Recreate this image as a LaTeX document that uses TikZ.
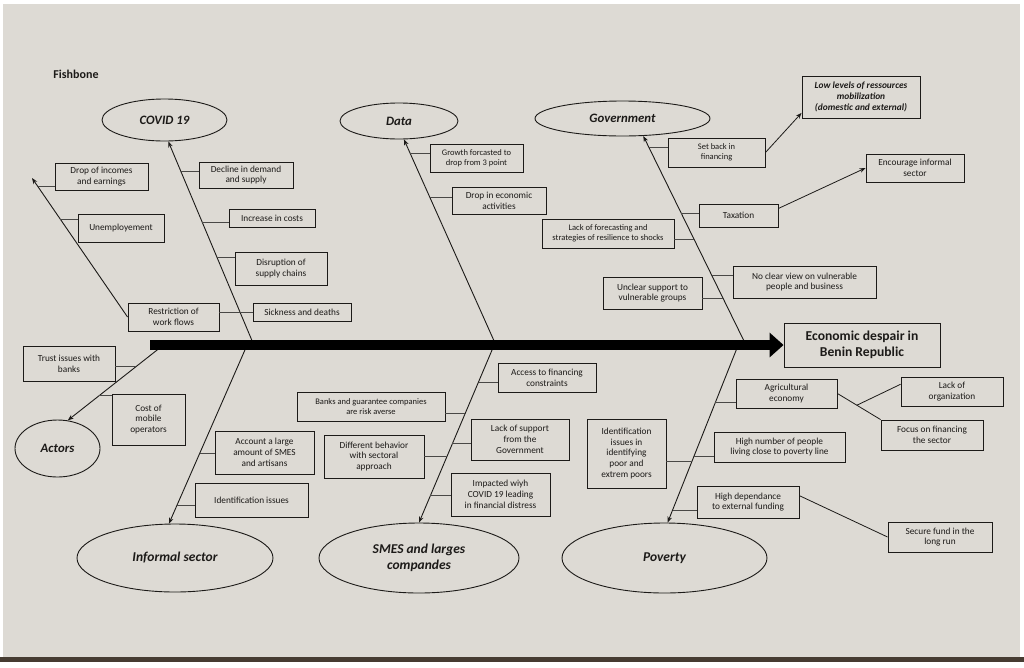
\documentclass[tikz,border=0pt]{standalone}
\usepackage{fontspec}
\setmainfont{Carlito}
\usetikzlibrary{shapes.geometric,arrows.meta,calc}
\definecolor{paper}{RGB}{221,218,212}
\definecolor{ink}{RGB}{28,26,24}
\definecolor{edge}{RGB}{70,60,50}
\begin{document}
\begin{tikzpicture}[x=1pt,y=-1pt,
  box/.style={draw=ink, line width=0.9pt, align=center, inner sep=1pt, text=ink,
    font=\fontsize{9.3}{10.8}\selectfont},
  smallbox/.style={box, font=\fontsize{8.5}{10}\selectfont},
  bx/.style 2 args={minimum width=#1pt, minimum height=#2pt},
  ell/.style={ellipse, draw=ink, line width=0.9pt, inner sep=0pt, text=ink,
    font=\fontsize{12.8}{14.5}\selectfont\bfseries\itshape},
  bigell/.style={ell, font=\fontsize{13.5}{16}\selectfont\bfseries\itshape},
  bone/.style={draw=ink, line width=0.9pt, -{Stealth[length=6pt,width=4.5pt]}},
  conn/.style={draw=ink!80, line width=0.7pt},
  link/.style={draw=ink, line width=0.8pt},
  linkarrow/.style={link, -{Stealth[length=6pt,width=4.5pt]}},
  spine/.style={draw=black, line width=10pt, -{Triangle[length=14pt,width=24pt]}}
]
\useasboundingbox (0,0) rectangle (1024,667);
% paper
\fill[white] (0,0) rectangle (1024,667);
\fill[paper] (3,4) rectangle (1020,657);
\fill[edge] (0,657) rectangle (1024,662);

% title
\node[font=\fontsize{12}{13}\selectfont\bfseries, text=ink] (title) at (76,74) {Fishbone};

% category ellipses
\node[ell, minimum width=125pt, minimum height=42pt] (covid) at (164.5,120) {COVID 19};
\node[ell, minimum width=118pt, minimum height=36pt] (data) at (399,121) {Data};
\node[ell, minimum width=175pt, minimum height=35pt] (gov) at (622.5,118.5) {Government};
\node[ell, minimum width=85pt, minimum height=57pt] (actors) at (57.5,448.5) {Actors};
\node[bigell, minimum width=196pt, minimum height=68pt] (informal) at (175,558) {Informal sector};
\node[bigell, minimum width=200pt, minimum height=70pt, align=center] (smes) at (419,558) {SMES and larges\\compandes};
\node[bigell, minimum width=205pt, minimum height=70pt] (poverty) at (664.5,558) {Poverty};

% effect
\node[box, bx={156}{44}, font=\fontsize{13.6}{15.5}\selectfont\bfseries] (effect) at (862,345) {Economic despair in\\Benin Republic};

% COVID boxes
\node[box, bx={93}{27}] (drop) at (101.5,176.5) {Drop of incomes\\and earnings};
\node[box, bx={86}{28}] (unemp) at (121,228) {Unemployement};
\node[box, bx={91}{28}] (restr) at (173.5,317) {Restriction of\\work flows};
\node[box, bx={94}{26}] (decline) at (246,175) {Decline in demand\\and supply};
\node[box, bx={86}{18}] (increase) at (272,218) {Increase in costs};
\node[box, bx={92}{33}] (disrupt) at (281,268.5) {Disruption of\\supply chains};
\node[box, bx={98}{18}] (sick) at (302,312) {Sickness and deaths};

% Data boxes
\node[smallbox, bx={93}{28}] (growth) at (476.5,158) {Growth forcasted to\\drop from 3 point};
\node[box, bx={94}{27}] (dropeco) at (499,200.5) {Drop in economic\\activities};

% Government boxes
\node[smallbox, bx={97}{29}] (setback) at (716.5,152.5) {Set back in\\financing};
\node[smallbox, bx={118}{42}, font=\fontsize{9.4}{10.8}\selectfont\bfseries\itshape] (lowlev) at (861,97) {Low levels of ressources\\mobilization\\(domestic and external)};
\node[box, bx={98}{28}] (encour) at (915,168) {Encourage informal\\sector};
\node[box, bx={79}{23}] (tax) at (738.5,215.5) {Taxation};
\node[smallbox, bx={132}{29}] (lackfc) at (608,233.5) {Lack of forecasting and\\strategies of resilience to shocks};
\node[box, bx={143}{32}] (noclear) at (804.5,282) {No clear view on vulnerable\\people and business};
\node[box, bx={99}{32}] (unclear) at (652.5,293) {Unclear support to\\vulnerable groups};

% Actors boxes
\node[box, bx={92}{35}] (trust) at (69,363.5) {Trust issues with\\banks};
\node[box, bx={73}{51}] (cost) at (148.5,419.5) {Cost of\\mobile\\operators};

% Informal sector boxes
\node[box, bx={99}{43}] (account) at (264.5,452.5) {Account a large\\amount of SMES\\and artisans};
\node[box, bx={113}{34}] (ident) at (251.5,500) {Identification issues};

% SMES boxes
\node[box, bx={98}{29}] (access) at (547,377.5) {Access to financing\\constraints};
\node[smallbox, bx={148}{29}] (banks) at (371,406.5) {Banks and guarantee companies\\are risk averse};
\node[box, bx={98}{41}] (lacksup) at (520,439.5) {Lack of support\\from the\\Government};
\node[box, bx={100}{43}] (diff) at (374,456.5) {Different behavior\\with sectoral\\approach};
\node[box, bx={99}{43}] (impact) at (500.5,494.5) {Impacted wiyh\\COVID 19 leading\\in financial distress};

% Poverty boxes
\node[box, bx={101}{29}] (agri) at (786.5,393.5) {Agricultural\\economy};
\node[box, bx={102}{29}] (lackorg) at (952,391.5) {Lack of\\organization};
\node[box, bx={102}{30}] (focus) at (932,435) {Focus on financing\\the sector};
\node[box, bx={79}{69}] (identpov) at (626.5,453.5) {Identification\\issues in\\identifying\\poor and\\extrem poors};
\node[box, bx={131}{30}] (highnum) at (779.5,447) {High number of people\\living close to poverty line};
\node[box, bx={102}{32}] (highdep) at (748,502) {High dependance\\to external funding};
\node[box, bx={104}{30}] (secure) at (940,537) {Secure fund in the\\long run};

% spine base points
\coordinate (bc) at (253,343);
\coordinate (bd) at (495,343);
\coordinate (bg) at (745,343);
\coordinate (ba) at (166,343);
\coordinate (bi) at (248,343);
\coordinate (bs) at (495,343);
\coordinate (bp) at (739,343);
\coordinate (subtip) at (32,178);
\coordinate (spinestart) at (150,345);

% bones
\draw[bone] (bc) -- (covid.-80);
\draw[bone] (bd) -- (data.-75);
\draw[bone] (bg) -- (gov.-40);
\draw[bone] (ba) -- (actors.70);
\draw[bone] (bi) -- (informal.100);
\draw[bone] (bs) -- (smes.north);
\draw[bone] (bp) -- (poverty.85);
\draw[bone] (restr.west) -- (subtip);

% COVID connectors
\coordinate (c1) at ($(bc)!0.851!(covid.-80)$);
\coordinate (c2) at ($(bc)!0.599!(covid.-80)$);
\coordinate (c3) at ($(bc)!0.426!(covid.-80)$);
\coordinate (c4) at ($(bc)!0.153!(covid.-80)$);
\draw[conn] (c1) -- (c1 -| decline.west);
\draw[conn] (c2) -- (c2 -| increase.west);
\draw[conn] (c3) -- (c3 -| disrupt.west);
\draw[conn] (c4) -- (c4 -| sick.west);
\draw[conn] (c4) -- (c4 -| restr.east);
\coordinate (s1) at ($(restr.west)!0.942!(subtip)$);
\coordinate (s2) at ($(restr.west)!0.705!(subtip)$);
\draw[conn] (s1) -- (s1 -| drop.west);
\draw[conn] (s2) -- (s2 -| unemp.west);

% Data connectors
\coordinate (d1) at ($(bd)!0.931!(data.-75)$);
\coordinate (d2) at ($(bd)!0.716!(data.-75)$);
\draw[conn] (d1) -- (d1 -| growth.west);
\draw[conn] (d2) -- (d2 -| dropeco.west);

% Government connectors
\coordinate (g1) at ($(bg)!0.947!(gov.-40)$);
\coordinate (g2) at ($(bg)!0.627!(gov.-40)$);
\coordinate (g3) at ($(bg)!0.501!(gov.-40)$);
\coordinate (g4) at ($(bg)!0.328!(gov.-40)$);
\coordinate (g5) at ($(bg)!0.217!(gov.-40)$);
\draw[conn] (g1) -- (g1 -| setback.west);
\draw[conn] (g2) -- (g2 -| tax.west);
\draw[conn] (g3) -- (g3 -| lackfc.east);
\draw[conn] (g4) -- (g4 -| noclear.west);
\draw[conn] (g5) -- (g5 -| unclear.east);
\draw[linkarrow] (setback.east) -- (lowlev.195);
\draw[linkarrow] (tax.10) -- (encour.west);

% Actors connectors
\coordinate (a1) at ($(ba)!0.308!(actors.70)$);
\coordinate (a2) at ($(ba)!0.681!(actors.70)$);
\draw[conn] (a1) -- (a1 -| trust.east);
\draw[conn] (a2) -- (a2 -| cost.west);

% Informal connectors
\coordinate (i1) at ($(bi)!0.613!(informal.100)$);
\coordinate (i2) at ($(bi)!0.901!(informal.100)$);
\draw[conn] (i1) -- (i1 -| account.west);
\draw[conn] (i2) -- (i2 -| ident.west);

% SMES connectors
\coordinate (m1) at ($(bs)!0.217!(smes.north)$);
\coordinate (m2) at ($(bs)!0.389!(smes.north)$);
\coordinate (m3) at ($(bs)!0.561!(smes.north)$);
\coordinate (m4) at ($(bs)!0.633!(smes.north)$);
\coordinate (m5) at ($(bs)!0.850!(smes.north)$);
\draw[conn] (m1) -- (m1 -| access.west);
\draw[conn] (m2) -- (m2 -| banks.east);
\draw[conn] (m3) -- (m3 -| lacksup.west);
\draw[conn] (m4) -- (m4 -| diff.east);
\draw[conn] (m5) -- (m5 -| impact.west);

% Poverty connectors
\coordinate (p1) at ($(bp)!0.332!(poverty.85)$);
\coordinate (p2) at ($(bp)!0.632!(poverty.85)$);
\coordinate (p3) at ($(bp)!0.659!(poverty.85)$);
\coordinate (p4) at ($(bp)!0.931!(poverty.85)$);
\draw[conn] (p1) -- (p1 -| agri.west);
\draw[conn] (p2) -- (p2 -| highnum.west);
\draw[conn] (p3) -- (p3 -| identpov.east);
\draw[conn] (p4) -- (p4 -| highdep.west);
\draw[link] (agri.east) -- (focus.north west);
\coordinate (fork) at ($(agri.east)!0.45!(focus.north west)$);
\draw[link] (fork) -- (lackorg.172);
\draw[link] (highdep.7) -- (secure.west);

% spine
\draw[spine] (spinestart) -- (effect.west);
\end{tikzpicture}
\end{document}
